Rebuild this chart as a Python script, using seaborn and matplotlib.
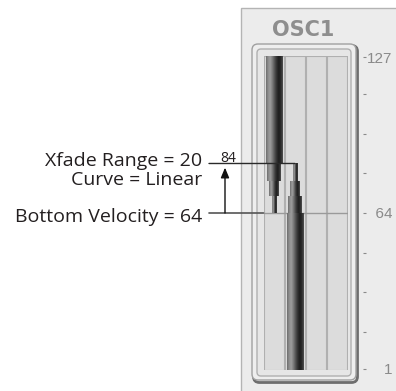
import numpy as np
import matplotlib
matplotlib.use("Agg")
import matplotlib.pyplot as plt
import matplotlib.transforms as mtrans
from matplotlib.patches import FancyBboxPatch, Rectangle
from matplotlib.colors import LinearSegmentedColormap
import seaborn as sns

# %% data
columns = ["1", "2", "3", "4"]          # zone slots of the OSC1 strip
VEL_MIN, VEL_MAX = 1, 127

layer_column = ["1", "2"]               # upper layer, lower layer
layer_low = [64, 1]
layer_high = [127, 84]

bottom_velocity = 64
xfade_range = 20
xfade_top = 84
fade_edges = [64, 71, 77, 84]           # linear curve drawn as three steps

tick_values = [1, 16, 32, 48, 64, 80, 96, 112, 127]
tick_labels = ["    1", "", "", "", "  64", "", "", "", "127"]

# %% style
sns.set_theme(style="white")
plt.rcParams['font.family'] = ['Open Sans', 'DejaVu Sans']

fig = plt.figure(figsize=(3.96, 3.91), dpi=100)
fig.patch.set_facecolor("white")

# decor layer in image pixel coords (y down)
bg = fig.add_axes([0, 0, 1, 1], zorder=0)
bg.set_xlim(0, 396)
bg.set_ylim(391, 0)
bg.axis("off")

bg.add_patch(Rectangle((241, 8), 170, 400, facecolor="#ececec", edgecolor="#b4b4b4", lw=1))
bg.add_patch(FancyBboxPatch((253.5, 45.5), 104, 337, boxstyle="round,pad=0,rounding_size=6",
                            facecolor="none", edgecolor="#6e6e6e", lw=2))
bg.add_patch(FancyBboxPatch((252, 44), 104, 336, boxstyle="round,pad=0,rounding_size=6",
                            facecolor="#eeeeee", edgecolor="#a0a0a0", lw=1))
bg.add_patch(FancyBboxPatch((257, 49), 94, 327, boxstyle="round,pad=0,rounding_size=4",
                            facecolor="#e6e6e6", edgecolor="#b0b0b0", lw=1))
bg.text(303, 30, "OSC1", ha="center", va="center", fontsize=15, fontweight="bold",
        color="#8e8e8e", family="DejaVu Sans")

txt = dict(ha="right", va="baseline", fontsize=14, color="#231f20")
bg.text(202, 166, f"Xfade Range = {xfade_range}", **txt)
bg.text(202, 185, "Curve = Linear", **txt)
bg.text(202, 222, f"Bottom Velocity = {bottom_velocity}", **txt)
bg.text(228.5, 162.5, str(xfade_top), ha="center", va="baseline", fontsize=10, color="#231f20")

# velocity strip
ax = fig.add_axes([263.5 / 396, (391 - 370.2) / 391, 84 / 396, 314.4 / 391], zorder=1)
ax.set_facecolor("#8e8e8e")

sns.barplot(x=columns, y=[VEL_MAX] * len(columns), bottom=VEL_MIN - 0.5, order=columns,
            width=0.92, color="#dcdcdc", edgecolor="#b0b0b0", linewidth=0.8,
            saturation=1, errorbar=None, ax=ax, zorder=1)
ax.axhline(bottom_velocity, color="#9a9a9a", lw=1, zorder=2)

cyl = LinearSegmentedColormap.from_list(
    "cyl", ["#6e6e6e", "#8e8e8e", "#9e9e9e", "#7c7c7c", "#565656",
            "#343434", "#1e1e1e", "#2a2a2a", "#505050"])
grad = np.linspace(0, 1, 64)[np.newaxis, :]
step_widths = [0.66, 0.44, 0.2]


def draw_bar(col, lo, hi, w):
    sns.barplot(x=[col], y=[hi - lo], bottom=lo, order=columns, width=w,
                color="#555555", edgecolor="none", linewidth=0, saturation=1,
                errorbar=None, ax=ax, zorder=3)
    p = ax.containers[-1].patches[0]
    x0, y0 = p.get_x(), p.get_y()
    im = ax.imshow(grad, extent=[x0, x0 + p.get_width(), y0, y0 + p.get_height()],
                   cmap=cyl, aspect="auto", interpolation="bilinear", zorder=3.1)
    im.set_clip_path(p)


# upper layer: solid above the fade, narrowing down to the bottom velocity
draw_bar(layer_column[0], fade_edges[-1], layer_high[0] + 0.5, 0.8)
for i, w in enumerate(step_widths):
    draw_bar(layer_column[0], fade_edges[-2 - i], fade_edges[-1 - i], w)
# lower layer: solid up to the bottom velocity, narrowing up to the fade top
draw_bar(layer_column[1], layer_low[1] - 0.5, fade_edges[0], 0.8)
for i, w in enumerate(step_widths):
    draw_bar(layer_column[1], fade_edges[i], fade_edges[i + 1], w)

ax.set_xlim(-0.5, len(columns) - 0.5)
ax.set_ylim(VEL_MIN - 0.5, VEL_MAX + 0.5)
ax.set_xlabel("")
ax.set_ylabel("")
ax.tick_params(axis="x", bottom=False, labelbottom=False)
ax.yaxis.tick_right()
ax.spines["right"].set_position(("outward", 11.2))
for s in ax.spines.values():
    s.set_visible(False)
ax.set_yticks(tick_values)
ax.set_yticklabels(tick_labels)
ax.tick_params(axis="y", right=True, left=False, length=2.3, width=0.8, color="#8a8a8a",
               pad=0.8, labelsize=11, labelcolor="#8a8a8a")
for lab in ax.get_yticklabels():
    lab.set_family("Liberation Sans")

# annotation lines
px_vel = mtrans.blended_transform_factory(bg.transData, ax.transData)
ax.annotate("", xy=(1, xfade_top), xycoords="data", xytext=(209, xfade_top), textcoords=px_vel,
            arrowprops=dict(arrowstyle="-", color="#2a2a2a", lw=1, shrinkA=0, shrinkB=0),
            annotation_clip=False, zorder=6)
ax.annotate("", xy=(-0.5, bottom_velocity), xycoords="data", xytext=(209, bottom_velocity),
            textcoords=px_vel,
            arrowprops=dict(arrowstyle="-", color="#555555", lw=1.2, shrinkA=0, shrinkB=0),
            annotation_clip=False, zorder=6)
ax.annotate("", xy=(225, xfade_top), xycoords=px_vel, xytext=(225, bottom_velocity),
            textcoords=px_vel,
            arrowprops=dict(arrowstyle="-|>,head_length=0.6,head_width=0.25", color="#111111",
                            lw=1, shrinkA=0, shrinkB=3, mutation_scale=10),
            annotation_clip=False, zorder=6)

fig.savefig("out.png", dpi=100)
